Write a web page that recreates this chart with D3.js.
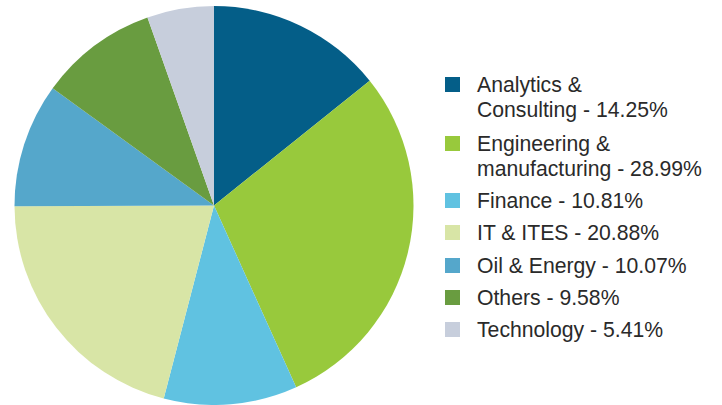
<!DOCTYPE html>
<html>
<head>
<meta charset="utf-8">
<script src="https://cdn.jsdelivr.net/npm/d3@7"></script>
<style>
  body { margin: 0; background: #fff; }
  svg text { font-family: "Liberation Sans", Arial, sans-serif; fill: #2a2a2a; }
</style>
</head>
<body>
<div id="chart"></div>
<script>
/* Data */
var categories = ["Analytics & Consulting", "Engineering & manufacturing", "Finance", "IT & ITES", "Oil & Energy", "Others", "Technology"];
var shares = [14.25, 28.99, 10.81, 20.88, 10.07, 9.58, 5.41];
var colors = ["#045e88", "#98c93c", "#60c2e1", "#d8e5a6", "#55a7cb", "#699c40", "#c7cedc"];
// legend lines (some labels wrap onto two lines)
var legendLines = [
    ["Analytics &", "Consulting - 14.25%"],
    ["Engineering &", "manufacturing - 28.99%"],
    ["Finance - 10.81%"],
    ["IT & ITES - 20.88%"],
    ["Oil & Energy - 10.07%"],
    ["Others - 9.58%"],
    ["Technology - 5.41%"]
];

var width = 722, height = 405;
var cx = 214, cy = 205.5, radius = 199.5;

var svg = d3.select("#chart").append("svg")
    .attr("width", width)
    .attr("height", height);

var color = d3.scaleOrdinal().domain(categories).range(colors);

var pie = d3.pie().sort(null).value(function (d) { return d; });
var arc = d3.arc().innerRadius(0).outerRadius(radius);

var g = svg.append("g").attr("transform", "translate(" + cx + "," + cy + ")");

g.selectAll("path").data(pie(shares)).enter().append("path")
    .attr("d", arc)
    .attr("fill", function (d, i) { return color(categories[i]); });

/* Legend */
var rowBaselines = [92, 151, 208, 240, 273, 305, 337];
var lineHeight = 25;

var legend = svg.append("g");
var row = legend.selectAll("g").data(categories).enter().append("g")
    .attr("transform", function (d, i) { return "translate(0," + rowBaselines[i] + ")"; });

row.append("rect")
    .attr("x", 445)
    .attr("y", -15)
    .attr("width", 15)
    .attr("height", 15)
    .attr("fill", function (d) { return color(d); });

row.append("text")
    .attr("x", 477)
    .attr("font-size", 21.2)
    .selectAll("tspan")
    .data(function (d, i) { return legendLines[i]; })
    .enter().append("tspan")
    .attr("x", 477)
    .attr("y", function (d, j) { return j * lineHeight; })
    .attr("textLength", null)
    .text(function (d) { return d; });
</script>
</body>
</html>
